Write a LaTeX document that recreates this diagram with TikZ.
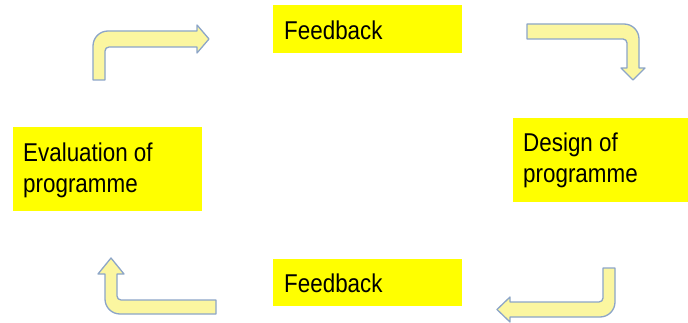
\documentclass[tikz,border=0pt]{standalone}
\usepackage{fontspec}
\setmainfont{Liberation Sans}
\definecolor{boxyellow}{RGB}{255,255,0}
\definecolor{arrfill}{RGB}{251,246,160}
\definecolor{arrline}{RGB}{140,165,200}
\newcommand{\tallt}[1]{\scalebox{1}[1.15]{\parbox[t]{180pt}{\raggedright\fontsize{22.4}{26.1}\selectfont #1}}}
\begin{document}
\begin{tikzpicture}[x=1pt,y=-1pt,
  box/.style={fill=boxyellow, draw=none},
  lbl/.style={inner sep=0pt, anchor=base west},
  arr/.style={fill=arrfill, draw=arrline, line width=1.3pt, line join=round}]
\useasboundingbox (0,0) rectangle (688,323);
% boxes
\fill[box] (273,5) rectangle (462,53);
\fill[box] (13,127) rectangle (202,211);
\fill[box] (513,118) rectangle (688,202);
\fill[box] (273,259) rectangle (462,306);
\node[lbl] (fbtop) at (284,39.5) {\tallt{Feedback}};
\node[lbl] (fbbot) at (284,292.5) {\tallt{Feedback}};
\node[lbl] (evalt) at (23,162) {\tallt{Evaluation of\\programme}};
\node[lbl] (designt) at (523,152) {\tallt{Design of\\programme}};
% arrows
\draw[arr] (93,80) -- (93,46) .. controls (93,37.7) and (99.7,31) .. (108,31) -- (197,31) -- (197,25) -- (209,39) -- (197,53) -- (197,47) -- (109,47) .. controls (106.8,47) and (105,48.8) .. (105,51) -- (105,80) -- cycle;
\draw[arr] (527,24) -- (624,24) .. controls (632.3,24) and (639,30.7) .. (639,39) -- (639,68) -- (645,68) -- (633,80) -- (621,68) -- (627,68) -- (627,43) .. controls (627,40.8) and (625.2,39) .. (623,39) -- (527,39) -- cycle;
\draw[arr] (603,268) -- (615,268) -- (615,302) .. controls (615,310.3) and (608.3,317) .. (600,317) -- (510,317) -- (510,322) -- (497,309.5) -- (510,297) -- (510,302) -- (599,302) .. controls (601.2,302) and (603,300.2) .. (603,298) -- cycle;
\draw[arr] (216,300) -- (121,300) .. controls (118.8,300) and (117,298.2) .. (117,296) -- (117,274) -- (124,274) -- (111,258) -- (98,274) -- (105,274) -- (105,299) .. controls (105,307.3) and (111.7,314) .. (120,314) -- (216,314) -- cycle;
\end{tikzpicture}
\end{document}
